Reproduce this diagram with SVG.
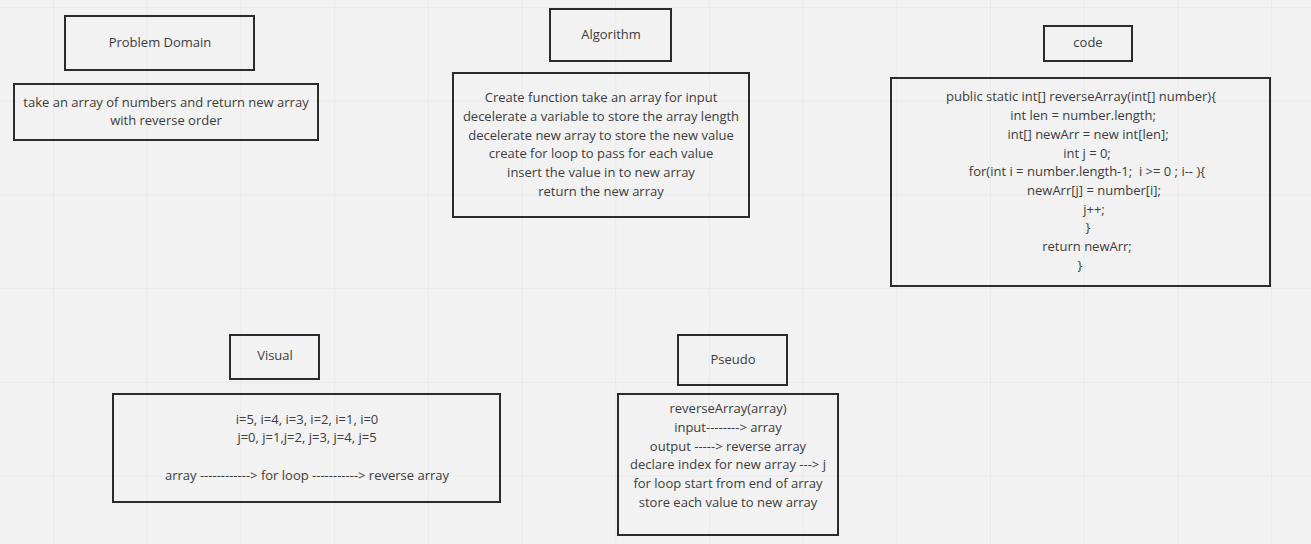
<svg xmlns="http://www.w3.org/2000/svg" width="1311" height="544" viewBox="0 0 1311 544">
<defs>
<pattern id="grid" x="53" y="7" width="93.7" height="93.7" patternUnits="userSpaceOnUse">
<path d="M0 0H93.7M0 0V93.7" fill="none" stroke="#e4e4e4" stroke-width="1.2"/>
</pattern>
</defs>
<style>
.box{fill:none;stroke:#2b2b2b;stroke-width:2}
.t{font-family:"Open Sans","Liberation Sans",sans-serif;font-size:13px;fill:#3c3c3c;text-anchor:middle}
</style>
<rect width="1311" height="544" fill="#f2f2f2"/>
<rect width="1311" height="544" fill="url(#grid)"/>
<g id="connectors"></g>
<g id="problem-domain"><rect class="box" x="65" y="16" width="189" height="54"/><text class="t" x="160" y="47">Problem Domain</text></g>
<g id="problem-text"><rect class="box" x="14" y="84" width="304" height="56"/><text class="t" x="166" y="107">take an array of numbers and return new array</text><text class="t" x="166" y="125">with reverse order</text></g>
<g id="algorithm"><rect class="box" x="550" y="9" width="121" height="52"/><text class="t" x="611" y="39">Algorithm</text></g>
<g id="algorithm-text"><rect class="box" x="453" y="73" width="296" height="144"/>
<text class="t" x="601" y="102">Create function take an array for input</text>
<text class="t" x="601" y="121">decelerate a variable to store the array length</text>
<text class="t" x="601" y="140">decelerate new array to store the new value</text>
<text class="t" x="601" y="158">create for loop to pass for each value</text>
<text class="t" x="601" y="177">insert the value in to new array</text>
<text class="t" x="601" y="196">return the new array</text></g>
<g id="code"><rect class="box" x="1044" y="26" width="88" height="35"/><text class="t" x="1088" y="47">code</text></g>
<g id="code-text"><rect class="box" x="891" y="78" width="379" height="208"/>
<text class="t" x="1081" y="101">public static int[] reverseArray(int[] number){</text>
<text class="t" x="1083" y="120">int len = number.length;</text>
<text class="t" x="1088" y="139">int[] newArr = new int[len];</text>
<text class="t" x="1087" y="158">int j = 0;</text>
<text class="t" x="1087" y="176" xml:space="preserve">for(int i = number.length-1;  i &gt;= 0 ; i-- ){</text>
<text class="t" x="1094" y="195">newArr[j] = number[i];</text>
<text class="t" x="1094" y="214">j++;</text>
<text class="t" x="1088" y="232">}</text>
<text class="t" x="1087" y="251">return newArr;</text>
<text class="t" x="1080" y="270">}</text></g>
<g id="visual"><rect class="box" x="230" y="335" width="89" height="44"/><text class="t" x="275" y="360">Visual</text></g>
<g id="visual-text"><rect class="box" x="113" y="394" width="387" height="108"/>
<text class="t" x="307" y="424">i=5, i=4, i=3, i=2, i=1, i=0</text>
<text class="t" x="307" y="442">j=0, j=1,j=2, j=3, j=4, j=5</text>
<text class="t" x="307" y="480">array ------------&gt; for loop -----------&gt; reverse array</text></g>
<g id="pseudo"><rect class="box" x="678" y="335" width="109" height="50"/><text class="t" x="733" y="364">Pseudo</text></g>
<g id="pseudo-text"><rect class="box" x="618" y="394" width="220" height="141"/>
<text class="t" x="728" y="413">reverseArray(array)</text>
<text class="t" x="728" y="432">input--------&gt; array</text>
<text class="t" x="728" y="451">output -----&gt; reverse array</text>
<text class="t" x="728" y="469">declare index for new array ---&gt; j</text>
<text class="t" x="728" y="488">for loop start from end of array</text>
<text class="t" x="728" y="507">store each value to new array</text></g>
</svg>
